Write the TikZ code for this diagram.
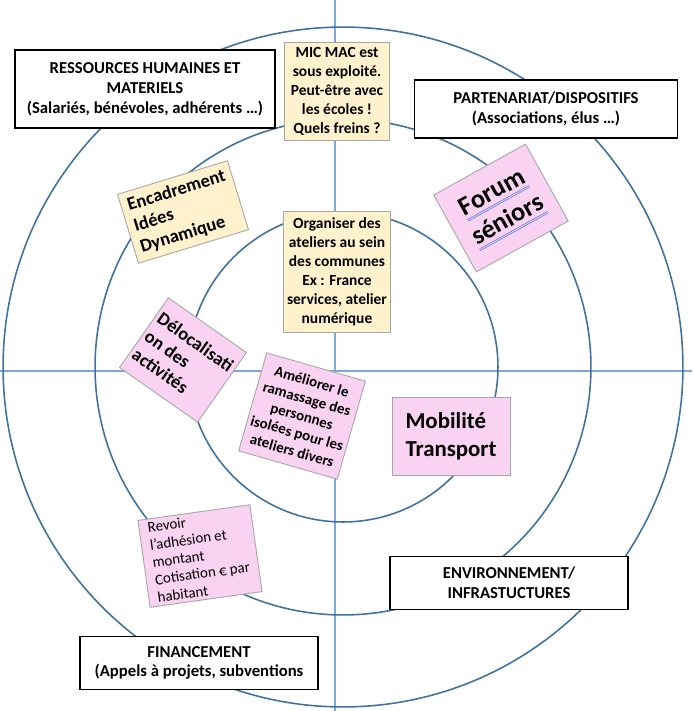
\documentclass[tikz,border=0pt]{standalone}
\usepackage{fontspec}
\setmainfont{Carlito}
\usepackage{xcolor}
\definecolor{ringBlue}   {HTML}{41719C}
\definecolor{axisBlue}   {HTML}{7EA6D8}
\definecolor{noteYellow} {HTML}{FFF2CC}
\definecolor{notePink}   {HTML}{F9D3F1}
\definecolor{noteEdge}   {HTML}{A6A6A6}
\definecolor{markBlue}   {HTML}{5B7FE0}
\usetikzlibrary{positioning}
\newcommand\spellmark[1]{\setbox0=\hbox{#1}%
    \rlap{\color{markBlue}\rule[-2.6pt]{\wd0}{0.35pt}}%
    \rlap{\color{markBlue}\rule[-3.6pt]{\wd0}{0.35pt}}\box0}
\tikzset{
    ring/.style={draw=ringBlue, line width=0.9pt},
    axisline/.style={draw=axisBlue, line width=0.6pt},
    theme/.style={draw, line width=1.1pt, fill=white, align=center,
                  font=\bfseries\fontsize{9.5}{11.3}\selectfont, inner sep=0pt},
    note/.style={draw=noteEdge, line width=0.5pt, inner sep=2pt},
    ynote/.style={note, fill=noteYellow, align=center,
                  font=\bfseries\fontsize{8.8}{10.8}\selectfont},
    pnote/.style={note, fill=notePink},
}

\begin{document}
\begin{tikzpicture}[x=0.02cm, y=-0.02cm]
    \useasboundingbox (0,0) rectangle (694,711);
    \coordinate (O) at (343,367);
    % axes
    \coordinate (west) at (0,371);
    \coordinate (east) at (692,371);
    \coordinate (north) at (335,0);
    \coordinate (south) at (335,711);
    \draw[axisline] (west) -- (east);
    \draw[axisline] (north) -- (south);
    % three rings
    \draw[ring] (O) circle[radius=6.8cm];
    \draw[ring] (O) circle[radius=4.96cm];
    \draw[ring] (O) circle[radius=3.1cm];
    % themes
    \node[theme, minimum width=5.2cm, minimum height=1.56cm] (rh) at (145,89)
        {RESSOURCES HUMAINES ET\\MATERIELS\\(Salariés, bénévoles, adhérents …)};
    \node[theme, minimum width=5.26cm, minimum height=1.16cm] (part) at (546,109)
        {PARTENARIAT/DISPOSITIFS\\(Associations, élus …)};
    \node[theme, minimum width=4.76cm, minimum height=1.06cm] (env) at (509,583)
        {ENVIRONNEMENT/\\INFRASTUCTURES};
    \node[theme, minimum width=4.76cm, minimum height=1.06cm] (fin) at (199,663)
        {FINANCEMENT\\(Appels à projets, subventions};
    % yellow notes
    \node[ynote, minimum width=2.1cm, minimum height=1.96cm] (micmac) at (337,91)
        {MIC MAC est\\sous exploité.\\Peut-être avec\\les écoles !\\Quels freins ?};
    \node[ynote, minimum width=2.1cm, minimum height=2.42cm] (ateliers) at (337,272)
        {Organiser des\\ateliers au sein\\des communes\\Ex : France\\services, atelier\\numérique};
    \node[ynote, align=left, font=\bfseries\fontsize{10.5}{12.5}\selectfont,
          minimum width=2.3cm, minimum height=1.44cm, rotate=17] (encadr) at (183,212)
        {Encadrement\\Idées\\Dynamique};
    % pink notes
    \node[pnote, align=center, font=\bfseries\fontsize{15}{18}\selectfont,
          minimum width=2.1cm, minimum height=1.76cm, rotate=29] (forum) at (501,208)
        {\spellmark{Forum}\\\spellmark{séniors}};
    \node[pnote, align=left, font=\bfseries\fontsize{10.5}{12.5}\selectfont,
          minimum width=1.9cm, minimum height=1.7cm, rotate=-35] (deloc) at (183,360)
        {Délocalisati\\on des\\activités};
    \node[pnote, align=center, font=\bfseries\fontsize{8.5}{10.2}\selectfont,
          minimum width=1.66cm, minimum height=2.04cm, rotate=-16] (ramass) at (302,416)
        {Améliorer le\\ramassage des\\personnes\\isolées pour les\\ateliers divers};
    \node[pnote, align=left, font=\bfseries\fontsize{13}{16}\selectfont,
          minimum width=2.36cm, minimum height=1.56cm] (mobil) at (451,436)
        {Mobilité\\Transport};
    \node[pnote, align=left, font=\fontsize{8.5}{10}\selectfont,
          minimum width=2.26cm, minimum height=1.74cm, rotate=8] (revoir) at (200,556)
        {Revoir\\l’adhésion et\\montant\\Cotisation € par\\habitant};
\end{tikzpicture}
\end{document}
